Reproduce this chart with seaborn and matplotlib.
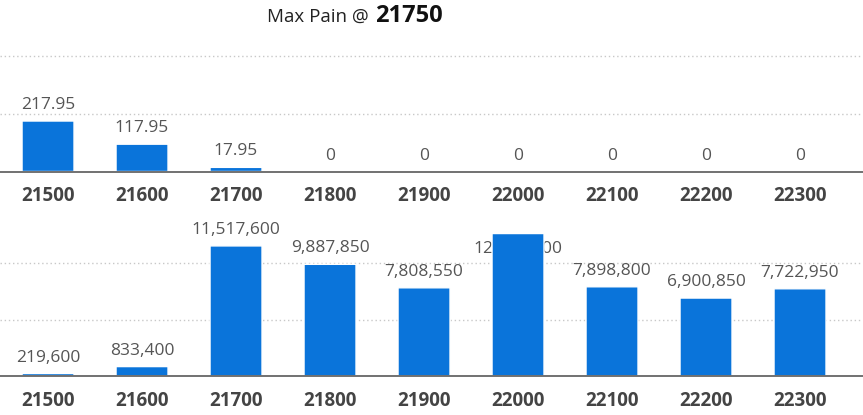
import matplotlib
matplotlib.use("Agg")
import matplotlib.pyplot as plt
import seaborn as sns
import pandas as pd

# Strike prices and the two series plotted against them
strikes = ["21500", "21600", "21700", "21800", "21900", "22000", "22100", "22200", "22300"]
premium = [217.95, 117.95, 17.95, 0, 0, 0, 0, 0, 0]
total_loss = [219600, 833400, 11517600, 9887850, 7808550, 12614100, 7898800, 6900850, 7722950]
max_pain = "21750"

BLUE = "#0A74DA"
LABEL_GREY = "#555555"
TICK_GREY = "#444444"

sns.set_theme(style="white")
plt.rcParams["font.family"] = ["Open Sans", "DejaVu Sans"]

fig = plt.figure(figsize=(8.63, 4.15), dpi=100)
fig.patch.set_facecolor("white")

ax_top = fig.add_axes([0.0, 0.5867, 1.0, 0.335])
ax_bot = fig.add_axes([0.0, 0.094, 1.0, 0.381])


def draw_panel(ax, values, ylim_top, grid_vals, fmt):
    df = pd.DataFrame({"strike": strikes, "value": values})
    sns.barplot(data=df, x="strike", y="value", order=strikes, color=BLUE,
                saturation=1, width=0.553, ax=ax, zorder=3)
    for bar in ax.patches:
        bar.set_snap(False)
    ax.set_xlim(-0.511, 8.67)
    ax.set_ylim(0, ylim_top)
    for g in grid_vals:
        ax.axhline(g, color="#c8c8c8", lw=1, ls=(0, (1, 2)), zorder=1)
    ax.set_xlabel("")
    ax.set_ylabel("")
    ax.set_yticks([])
    ax.tick_params(axis="x", length=0, pad=10.5, labelsize=13.5, colors=TICK_GREY)
    for lbl in ax.get_xticklabels():
        lbl.set_fontweight("bold")
    for side in ["top", "left", "right"]:
        ax.spines[side].set_visible(False)
    ax.spines["bottom"].set_color("#666666")
    ax.spines["bottom"].set_linewidth(1.3)
    ax.spines["bottom"].set_zorder(4)
    ax.set_facecolor("white")

    # Value labels: above the bar, or tucked under the top edge when there is no room
    px_per_unit = ax.get_position().height * fig.get_figheight() * fig.dpi / ylim_top
    for i, v in enumerate(values):
        room = (ylim_top - v) * px_per_unit
        if room > 22:
            ax.annotate(fmt(v), (i, v), xytext=(0, 11.5), textcoords="offset points",
                        ha="center", va="center", fontsize=12.5, color=LABEL_GREY,
                        zorder=5)
        else:
            ax.annotate(fmt(v), (i, v), xytext=(0, -11), textcoords="offset points",
                        ha="center", va="center", fontsize=12.5, color=LABEL_GREY,
                        zorder=2)


draw_panel(ax_top, premium, 600, [250, 500],
           lambda v: "0" if v == 0 else f"{v:.2f}")
draw_panel(ax_bot, total_loss, 14_000_000, [5_000_000, 10_000_000],
           lambda v: f"{v:,.0f}")

fig.text(369 / 863, 1 - 17 / 415, "Max Pain @", ha="right", va="center",
         fontsize=13.5, color="#222222")
fig.text(375 / 863, 1 - 16 / 415, max_pain, ha="left", va="center",
         fontsize=17, fontweight="bold", color="#111111")

fig.savefig("out.png", dpi=100, facecolor="white")
